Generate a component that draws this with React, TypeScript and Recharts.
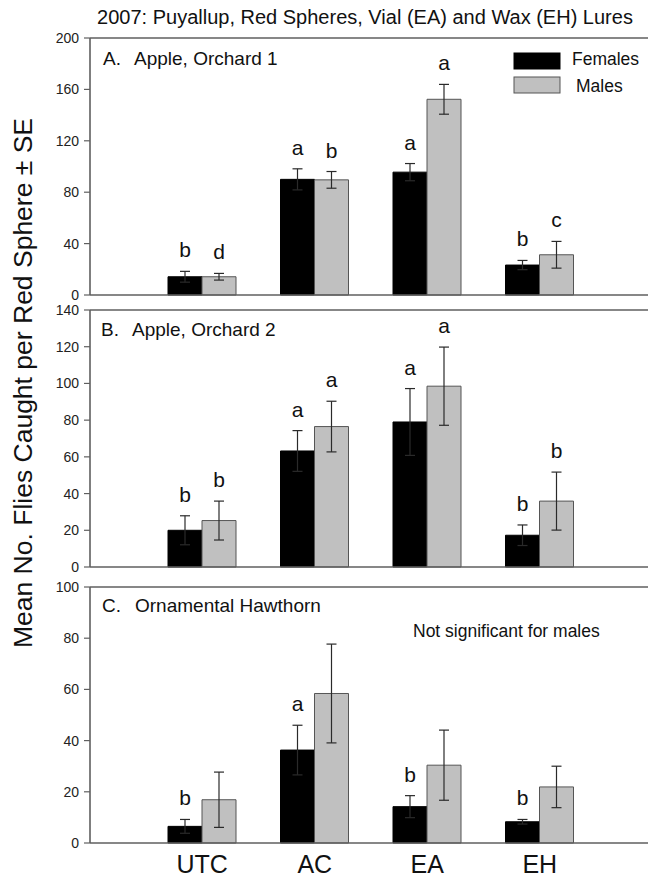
import React from 'react';
import { BarChart, Bar, XAxis, YAxis, ErrorBar, LabelList, ReferenceLine, Legend } from 'recharts';

const FONT = '"Liberation Sans", Arial, Helvetica, sans-serif';
const AXIS = '#5f5f5f';

const groups = ['UTC', 'AC', 'EA', 'EH'];
const seriesNames = ['Females', 'Males'];
const seriesFill = ['#000000', '#c0c0c0'];
const seriesStroke = ['#000000', '#555555'];

// A. Apple, Orchard 1
const femalesA = [14.2, 90, 95.6, 23.3];
const femalesSeA = [4.2, 8.2, 6.7, 3.6];
const malesA = [14.2, 89.6, 152.3, 31.3];
const malesSeA = [2.6, 6.5, 11.6, 10.4];
const femaleLettersA = ['b', 'a', 'a', 'b'];
const maleLettersA = ['d', 'b', 'a', 'c'];
const ticksA = [0, 40, 80, 120, 160, 200];

// B. Apple, Orchard 2
const femalesB = [20, 63.2, 79, 17.3];
const femalesSeB = [7.9, 11.1, 18.2, 5.6];
const malesB = [25.3, 76.5, 98.5, 35.9];
const malesSeB = [10.6, 13.8, 21.3, 15.8];
const femaleLettersB = ['b', 'a', 'a', 'b'];
const maleLettersB = ['b', 'a', 'a', 'b'];
const ticksB = [0, 20, 40, 60, 80, 100, 120, 140];

// C. Ornamental Hawthorn
const femalesC = [6.5, 36.3, 14.2, 8.3];
const femalesSeC = [2.7, 9.7, 4.3, 0.9];
const malesC = [16.9, 58.4, 30.4, 21.9];
const malesSeC = [10.8, 19.3, 13.7, 8.1];
const femaleLettersC = ['b', 'a', 'b', 'b'];
const maleLettersC = ['', '', '', ''];
const ticksC = [0, 20, 40, 60, 80, 100];

const title = '2007: Puyallup, Red Spheres, Vial (EA) and Wax (EH) Lures';
const yTitle = 'Mean No. Flies Caught per Red Sphere \u00b1 SE';
const note = 'Not significant for males';

const TICK_SIZE = 6;
const TICK_MARGIN = 5;

// letter above the top of each error bar
const letterLabel = (values: number[], ses: number[], letters: string[]) => (props: any) => {
  const vb = props.viewBox ?? props;
  const i = typeof props.index === 'number' ? props.index : Number(props.value);
  const letter = letters[i];
  if (!letter) return null;
  const x = Number(vb.x ?? props.x);
  const y = Number(vb.y ?? props.y);
  const w = Number(vb.width ?? props.width);
  const h = Math.abs(Number(vb.height ?? props.height));
  const perUnit = h / values[i];
  const errTop = y - ses[i] * perUnit;
  return (
    <text x={x + w / 2} y={errTop - 14} textAnchor="middle" fontSize={21} fontFamily={FONT} fill="#111">
      {letter}
    </text>
  );
};

const YTick = (props: any) => {
  const { x, y, payload } = props;
  return (
    <text x={x} y={y} dy="0.355em" textAnchor="end" fontSize={14} fontFamily={FONT} fill="#222">
      {payload.value}
    </text>
  );
};

// bottom value tick, hung on the x axis line (which sits at the bottom of the value scale)
const baseTick = (value: number) => (props: any) => {
  const vb = props.viewBox ?? {};
  const x = Number(vb.x);
  const y = Number(vb.y);
  return (
    <g>
      <line x1={x - TICK_SIZE} x2={x} y1={y} y2={y} stroke={AXIS} strokeWidth={1.2} />
      <text x={x - TICK_SIZE - TICK_MARGIN} y={y} dy="0.355em" textAnchor="end" fontSize={14} fontFamily={FONT} fill="#222">
        {value}
      </text>
    </g>
  );
};

const LegendBox = () => (
  <svg width={140} height={50}>
    {seriesNames.map((name, i) => (
      <g key={name}>
        <rect x={4} y={5 + i * 24} width={46} height={16} fill={seriesFill[i]} stroke={seriesStroke[i]} strokeWidth={1} />
        <text x={62 + i * 4} y={17 + i * 27} fontSize={17.5} fontFamily={FONT} fill="#111">
          {name}
        </text>
      </g>
    ))}
  </svg>
);

type PanelProps = {
  top: number;
  plotHeight: number;
  females: number[];
  femalesSe: number[];
  males: number[];
  malesSe: number[];
  femaleLetters: string[];
  maleLetters: string[];
  ticks: number[];
  showCategories?: boolean;
  showLegend?: boolean;
};

const Panel = ({ top, plotHeight, females, femalesSe, males, malesSe, femaleLetters, maleLetters, ticks, showCategories, showLegend }: PanelProps) => {
  const rows = groups.map((g, i) => ({
    group: g,
    idx: i,
    females: females[i],
    femalesSe: femalesSe[i],
    males: males[i],
    malesSe: malesSe[i],
  }));
  const min = ticks[0];
  const max = ticks[ticks.length - 1];
  const marginTop = 10;
  const marginBottom = 20;
  const xAxisHeight = showCategories ? 40 : 1;
  const height = marginTop + plotHeight + xAxisHeight + marginBottom;

  return (
    <div style={{ position: 'absolute', left: 0, top: top - marginTop }}>
      <BarChart
        width={652}
        height={height}
        data={rows}
        margin={{ top: marginTop, right: 0, bottom: marginBottom, left: 0 }}
        barGap={0}
        barSize={34}
      >
        <XAxis
          dataKey="group"
          padding={{ left: 56, right: 56 }}
          axisLine={{ stroke: AXIS, strokeWidth: 1.6 }}
          tickLine={false}
          tickSize={0}
          tickMargin={12}
          interval={0}
          height={xAxisHeight}
          tick={showCategories ? { fontSize: 25, fill: '#111', fontFamily: FONT } : false}
          label={baseTick(min)}
        />
        <YAxis
          type="number"
          domain={[min, max]}
          ticks={ticks.slice(1)}
          interval={0}
          width={90}
          axisLine={{ stroke: AXIS, strokeWidth: 1.6 }}
          tickLine={{ stroke: AXIS, strokeWidth: 1.2 }}
          tickSize={TICK_SIZE}
          tickMargin={TICK_MARGIN}
          tick={YTick}
        />
        <ReferenceLine y={max} stroke={AXIS} strokeWidth={1.6} ifOverflow="visible" />
        {showLegend && (
          <Legend
            layout="vertical"
            align="center"
            verticalAlign="middle"
            content={() => <LegendBox />}
            wrapperStyle={{ left: 510, top: 20, width: 140, height: 50 }}
          />
        )}
        <Bar dataKey="females" name={seriesNames[0]} fill={seriesFill[0]} stroke={seriesStroke[0]} strokeWidth={1} isAnimationActive={false}>
          <ErrorBar dataKey="femalesSe" direction="y" width={5} stroke="#2a2a2a" strokeWidth={1.2} />
          <LabelList dataKey="idx" content={letterLabel(females, femalesSe, femaleLetters)} />
        </Bar>
        <Bar dataKey="males" name={seriesNames[1]} fill={seriesFill[1]} stroke={seriesStroke[1]} strokeWidth={1} isAnimationActive={false}>
          <ErrorBar dataKey="malesSe" direction="y" width={5} stroke="#2a2a2a" strokeWidth={1.2} />
          <LabelList dataKey="idx" content={letterLabel(males, malesSe, maleLetters)} />
        </Bar>
      </BarChart>
    </div>
  );
};

export default function App() {
  // lower panels first so each upper panel's bottom labels sit on top
  return (
    <div style={{ position: 'absolute', left: 0, top: 0, width: 648, height: 878, overflow: 'hidden', background: '#fff' }}>
      <Panel top={587} plotHeight={256} females={femalesC} femalesSe={femalesSeC} males={malesC} malesSe={malesSeC}
        femaleLetters={femaleLettersC} maleLetters={maleLettersC} ticks={ticksC} showCategories />
      <Panel top={310} plotHeight={257} females={femalesB} femalesSe={femalesSeB} males={malesB} malesSe={malesSeB}
        femaleLetters={femaleLettersB} maleLetters={maleLettersB} ticks={ticksB} />
      <Panel top={38} plotHeight={257} females={femalesA} femalesSe={femalesSeA} males={malesA} malesSe={malesSeA}
        femaleLetters={femaleLettersA} maleLetters={maleLettersA} ticks={ticksA} showLegend />
      <svg width={648} height={878} style={{ position: 'absolute', left: 0, top: 0, pointerEvents: 'none' }} fontFamily={FONT} fill="#111">
        <text x={365} y={23.5} textAnchor="middle" fontSize={20}>{title}</text>
        <text x={32} y={383} textAnchor="middle" fontSize={26.5} transform="rotate(-90 32 383)">{yTitle}</text>
        <text x={103} y={65} fontSize={19}>A.</text>
        <text x={134} y={65} fontSize={19}>Apple, Orchard 1</text>
        <text x={101} y={336} fontSize={19}>B.</text>
        <text x={132} y={336} fontSize={19}>Apple, Orchard 2</text>
        <text x={102} y={612} fontSize={19}>C.</text>
        <text x={135} y={612} fontSize={19}>Ornamental Hawthorn</text>
        <text x={413} y={637} fontSize={17.5}>{note}</text>
      </svg>
    </div>
  );
}
